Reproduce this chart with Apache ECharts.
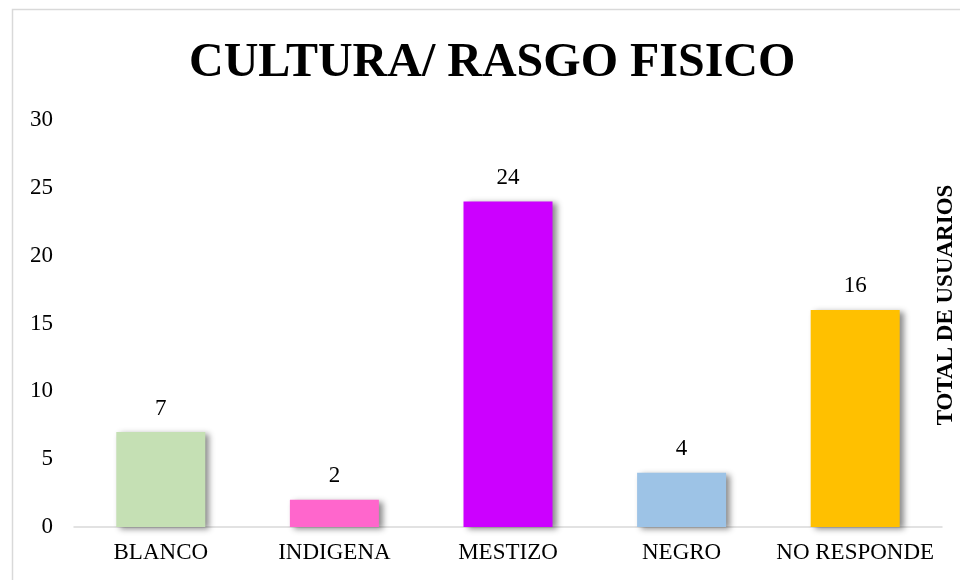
<!DOCTYPE html>
<html>
<head>
<meta charset="utf-8">
<script src="https://cdn.jsdelivr.net/npm/echarts@6/dist/echarts.min.js"></script>
<style>html,body{margin:0;padding:0;background:#fff}#c{width:960px;height:580px}</style>
</head>
<body>
<div id="c"></div>
<script>
const categories = ['BLANCO', 'INDIGENA', 'MESTIZO', 'NEGRO', 'NO RESPONDE'];
const values = [7, 2, 24, 4, 16];
const barColors = ['#C5E0B4', '#FF66CC', '#CC00FF', '#9DC3E6', '#FFC000'];
const yTicks = { min: 0, max: 30, interval: 5 };
const titleText = 'CULTURA/ RASGO FISICO';
const sideLabel = 'TOTAL DE USUARIOS';

const serif = '"Liberation Serif", "Times New Roman", serif';
const chart = echarts.init(document.getElementById('c'));
chart.setOption({
  backgroundColor: '#fff',
  animation: false,
  graphic: [{
    type: 'rect', shape: { x: 12.5, y: 9.5, width: 1000, height: 1000 },
    style: { fill: 'none', stroke: '#d9d9d9', lineWidth: 1.5 }, silent: true
  }, {
    type: 'text', x: 946, y: 305, rotation: Math.PI / 2, silent: true,
    style: {
      text: sideLabel, fontFamily: serif, fontWeight: 'bold', fontSize: 23,
      fill: '#000', align: 'center', verticalAlign: 'middle'
    }
  }],
  title: {
    text: titleText, left: 184, top: 35,
    textStyle: { fontFamily: serif, fontWeight: 'bold', fontSize: 48, color: '#000' }
  },
  grid: { left: 74, right: 18, top: 120, bottom: 53, outerBoundsMode: 'none', containLabel: false },
  xAxis: {
    type: 'category', data: categories,
    axisLine: { lineStyle: { color: '#d9d9d9', width: 1.5 } },
    axisTick: { show: false },
    axisLabel: { fontFamily: serif, fontSize: 23, color: '#000', margin: 14, interval: 0 }
  },
  yAxis: {
    type: 'value', min: yTicks.min, max: yTicks.max, interval: yTicks.interval,
    axisLine: { show: false }, axisTick: { show: false }, splitLine: { show: false },
    axisLabel: { fontFamily: serif, fontSize: 23, color: '#000', margin: 21 }
  },
  series: [{
    type: 'bar', barWidth: 89,
    data: values.map((v, i) => ({ value: v, itemStyle: { color: barColors[i] } })),
    itemStyle: {
      shadowColor: 'rgba(0,0,0,0.45)', shadowBlur: 6, shadowOffsetX: 4, shadowOffsetY: 2
    },
    label: {
      show: true, position: 'top', distance: 12,
      fontFamily: serif, fontSize: 23, color: '#000'
    }
  }]
});
</script>
</body>
</html>
